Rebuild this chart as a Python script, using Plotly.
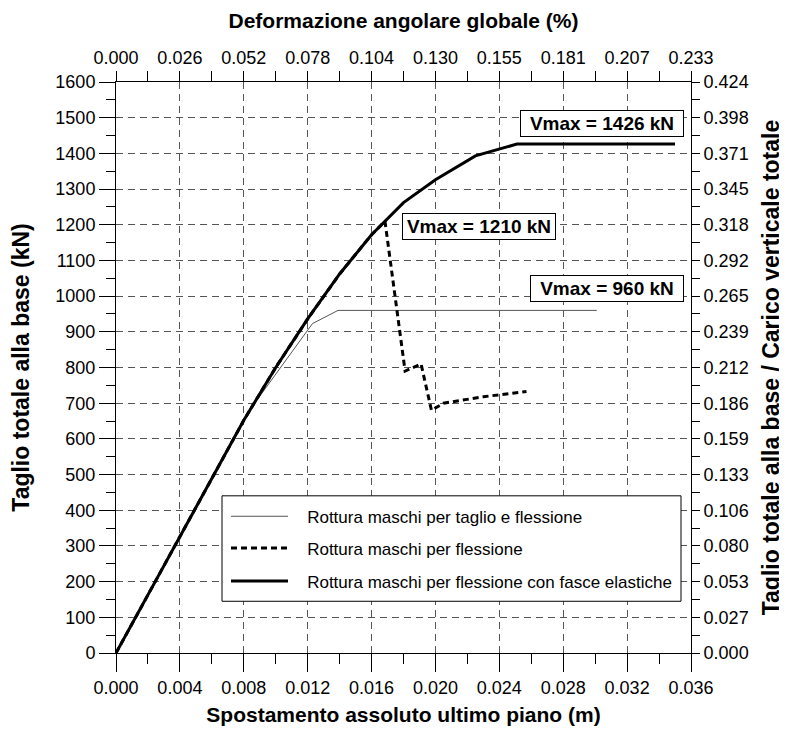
import plotly.graph_objects as go

# Spostamento (m) / taglio alla base (kN)
x_taglio = [0, 0.006, 0.0086, 0.0123, 0.0139, 0.0301]
v_taglio = [0, 492, 695, 923, 960, 960]

x_fless = [0, 0.006, 0.008, 0.010, 0.012, 0.014, 0.016, 0.01684,
           0.0181, 0.0191, 0.01975, 0.0205, 0.0230, 0.0257]
v_fless = [0, 492, 652, 800, 936, 1062, 1172, 1210,
           790, 810, 680, 700, 718, 733]

x_fasce = [0, 0.006, 0.008, 0.010, 0.012, 0.014, 0.016, 0.018, 0.020, 0.0225, 0.0251, 0.035]
v_fasce = [0, 492, 652, 800, 936, 1062, 1172, 1262, 1326, 1393, 1426, 1426]

x_ticks = [0, 0.004, 0.008, 0.012, 0.016, 0.020, 0.024, 0.028, 0.032, 0.036]
top_labels = ['0.000', '0.026', '0.052', '0.078', '0.104', '0.130', '0.155', '0.181', '0.207', '0.233']
y_ticks = list(range(0, 1700, 100))
right_labels = ['0.000', '0.027', '0.053', '0.080', '0.106', '0.133', '0.159', '0.186', '0.212',
                '0.239', '0.265', '0.292', '0.318', '0.345', '0.371', '0.398', '0.424']

# etichette Vmax: (testo, x, y, larghezza riquadro)
vmax_labels = [('Vmax = 1426 kN', 0.03040, 1483, 158),
               ('Vmax = 1210 kN', 0.02275, 1195, 148),
               ('Vmax = 960 kN', 0.03072, 1021, 148)]

FONT = 'Arial, Liberation Sans, sans-serif'
PAD = '\u00a0\u00a0\u00a0'  # spazio tra simbolo e testo in legenda

fig = go.Figure()

fig.add_trace(go.Scatter(x=x_taglio, y=v_taglio, mode='lines',
                         line=dict(color='#555555', width=1),
                         name=PAD + 'Rottura maschi per taglio e flessione', legend='legend'))
fig.add_trace(go.Scatter(x=x_fless, y=v_fless, mode='lines',
                         line=dict(color='black', width=3, dash='6px,4px'),
                         name=PAD + 'Rottura maschi per flessione', legend='legend2'))
fig.add_trace(go.Scatter(x=x_fasce, y=v_fasce, mode='lines',
                         line=dict(color='black', width=3),
                         name=PAD + 'Rottura maschi per flessione con fasce elastiche', legend='legend3'))
# asse secondario (in alto / a destra)
fig.add_trace(go.Scatter(x=[0], y=[0], xaxis='x2', yaxis='y2', mode='markers',
                         marker=dict(opacity=0), showlegend=False, hoverinfo='skip'))

for t, xv, yv, w in vmax_labels:
    fig.add_annotation(x=xv, y=yv, text='<b>' + t + '</b>', showarrow=False,
                       width=w, height=21,
                       font=dict(size=19, color='black', family=FONT),
                       bgcolor='white', bordercolor='black', borderwidth=1, borderpad=2)

# riquadro legenda
fig.add_shape(type='rect', xref='paper', yref='paper',
              x0=(222 - 116) / 575, x1=(681 - 116) / 575,
              y0=(653 - 601) / 574, y1=(653 - 495) / 574,
              fillcolor='white', line=dict(color='black', width=1), layer='above')

axis_common = dict(showline=True, linecolor='black', linewidth=1, zeroline=False,
                   tickfont=dict(size=18, color='black', family=FONT),
                   ticks='outside', tickcolor='black')

grid = dict(showgrid=True, gridcolor='#555555', griddash='7px,5px', gridwidth=1)

leg_common = dict(bgcolor='rgba(0,0,0,0)', borderwidth=0, itemwidth=57,
                  font=dict(size=17, color='black', family=FONT),
                  xanchor='left', yanchor='middle', x=(226 - 116) / 575)

title_h = dict(size=21, family=FONT, color='black')
title_v = dict(size=23, family=FONT, color='black')

fig.update_layout(
    width=787, height=740,
    margin=dict(l=108, r=104, t=71, b=95),
    plot_bgcolor='white', paper_bgcolor='white',
    font=dict(family=FONT, color='black'),
    xaxis=dict(range=[0, 0.036], tickvals=x_ticks, tickformat='.3f', ticklen=18,
               minor=dict(dtick=0.002, ticklen=10, ticks='outside', tickcolor='black', showgrid=False),
               title=dict(text='<b>Spostamento assoluto ultimo piano (m)</b>',
                          font=title_h, standoff=10),
               **axis_common, **grid),
    xaxis2=dict(range=[0, 0.036], overlaying='x', side='top', tickvals=x_ticks, ticktext=top_labels,
                ticklen=10, showgrid=False,
                minor=dict(dtick=0.002, ticklen=10, ticks='outside', tickcolor='black'),
                title=dict(text='<b>Deformazione angolare globale (%)</b>',
                           font=title_h, standoff=13),
                **axis_common),
    yaxis=dict(range=[0, 1600], tickvals=y_ticks, ticklen=16,
               minor=dict(dtick=50, ticklen=9, ticks='outside', tickcolor='black', showgrid=False),
               title=dict(text='<b>Taglio totale alla base (kN)</b>',
                          font=title_v, standoff=19),
               **axis_common, **grid),
    yaxis2=dict(range=[0, 1600], overlaying='y', side='right', tickvals=y_ticks, ticktext=right_labels,
                ticklen=8, showgrid=False,
                minor=dict(dtick=50, ticklen=8, ticks='outside', tickcolor='black'),
                title=dict(text='<b>Taglio totale alla base / Carico verticale totale</b>',
                           font=title_v, standoff=15),
                **axis_common),
    legend=dict(y=(653 - 516) / 574, **leg_common),
    legend2=dict(y=(653 - 548) / 574, **leg_common),
    legend3=dict(y=(653 - 581) / 574, **leg_common),
)

fig.write_html('out.html')
